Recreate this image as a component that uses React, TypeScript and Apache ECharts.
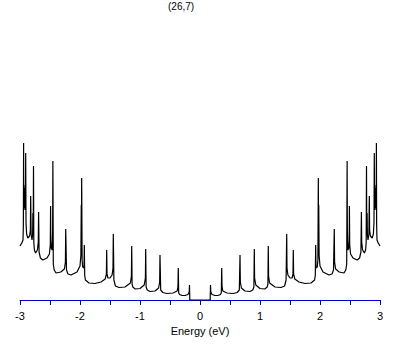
import React, { useEffect, useRef } from "react";
import * as echarts from "echarts";

const chartTitle = "(26,7)";
const xAxisName = "Energy (eV)";
const xMin = -3;
const xMax = 3;
const tickStep = 0.5;

// Density of states: [energy (eV), DOS (arb. units)]
const dosLeft: number[][] = [
  [-3.0, 54], [-2.97, 57], [-2.95, 60], [-2.944, 75], [-2.94, 157], [-2.937, 100], [-2.933, 108],
  [-2.928, 92], [-2.923, 112], [-2.918, 90], [-2.913, 115], [-2.909, 95], [-2.905, 147], [-2.9, 78],
  [-2.89, 66], [-2.87, 62], [-2.84, 64], [-2.827, 70], [-2.822, 104], [-2.815, 66], [-2.8, 60],
  [-2.79, 65], [-2.785, 87], [-2.779, 70], [-2.775, 134], [-2.77, 58], [-2.76, 50], [-2.74, 47],
  [-2.71, 50], [-2.695, 58], [-2.69, 88], [-2.682, 48], [-2.66, 42], [-2.62, 40], [-2.55, 42],
  [-2.51, 46], [-2.495, 55], [-2.49, 94], [-2.487, 60], [-2.48, 52], [-2.465, 50], [-2.456, 70],
  [-2.452, 139], [-2.445, 36], [-2.43, 30], [-2.4, 27], [-2.32, 28], [-2.26, 31], [-2.243, 38],
  [-2.238, 71], [-2.225, 30], [-2.2, 26], [-2.15, 25], [-2.05, 28], [-2.0, 34], [-1.985, 45],
  [-1.979, 95], [-1.976, 60], [-1.972, 122], [-1.965, 40], [-1.955, 33], [-1.933, 32], [-1.928, 55],
  [-1.922, 25], [-1.91, 20], [-1.85, 17], [-1.75, 16.5], [-1.65, 18], [-1.58, 21], [-1.56, 26],
  [-1.555, 50], [-1.55, 26], [-1.535, 22], [-1.5, 22], [-1.465, 25], [-1.45, 32], [-1.445, 66],
  [-1.435, 20], [-1.41, 14], [-1.35, 12.5], [-1.25, 13], [-1.16, 17], [-1.143, 24], [-1.138, 54],
  [-1.132, 16], [-1.12, 13], [-1.08, 11], [-1.0, 11.5], [-0.93, 15], [-0.91, 22], [-0.905, 51],
  [-0.898, 13], [-0.88, 10], [-0.83, 8.5], [-0.75, 9], [-0.69, 12], [-0.672, 18], [-0.667, 45],
  [-0.655, 10], [-0.62, 7.5], [-0.55, 6.5], [-0.45, 7], [-0.38, 9], [-0.367, 14], [-0.362, 32],
  [-0.355, 7], [-0.34, 5.5], [-0.3, 4.5], [-0.25, 4.5], [-0.2, 5.5], [-0.18, 8], [-0.175, 15],
  [-0.17, 0],
];

const dosRight: number[][] = [
  [0.17, 0], [0.175, 15], [0.18, 8], [0.2, 5.5], [0.25, 4.5], [0.3, 4.5], [0.34, 5.5], [0.355, 7],
  [0.362, 32], [0.367, 14], [0.38, 9], [0.45, 7], [0.55, 6.5], [0.62, 7.5], [0.655, 10],
  [0.667, 45], [0.672, 18], [0.69, 12], [0.75, 9], [0.83, 8.5], [0.88, 10], [0.898, 13],
  [0.905, 51], [0.91, 22], [0.93, 15], [1.0, 11.5], [1.08, 11], [1.12, 13], [1.132, 16],
  [1.138, 54], [1.143, 24], [1.16, 17], [1.25, 13], [1.35, 12.5], [1.41, 14], [1.435, 20],
  [1.445, 66], [1.45, 32], [1.465, 25], [1.5, 22], [1.535, 22], [1.55, 26],
  [1.555, 50], [1.56, 26], [1.58, 21], [1.65, 18], [1.75, 16.5], [1.85, 17], [1.91, 20], [1.922, 25],
  [1.928, 55], [1.933, 32], [1.955, 33], [1.965, 40],
  [1.972, 122], [1.976, 60], [1.979, 95], [1.985, 45], [2.0, 34], [2.05, 28], [2.15, 25], [2.2, 26],
  [2.225, 30], [2.238, 71], [2.243, 38], [2.26, 31], [2.32, 28], [2.4, 27], [2.43, 30], [2.445, 36],
  [2.452, 139], [2.456, 70], [2.465, 50], [2.48, 52], [2.487, 60],
  [2.49, 94], [2.495, 55], [2.51, 46], [2.55, 42], [2.62, 40], [2.66, 42], [2.682, 48],
  [2.69, 88], [2.695, 58], [2.71, 50], [2.74, 47], [2.76, 50], [2.77, 58],
  [2.775, 134], [2.779, 70], [2.785, 87], [2.79, 65], [2.8, 60], [2.815, 66],
  [2.822, 104], [2.827, 70], [2.84, 64], [2.87, 62], [2.89, 66], [2.9, 78],
  [2.905, 147], [2.909, 95], [2.913, 115], [2.918, 90], [2.923, 112], [2.928, 92], [2.933, 108],
  [2.937, 100], [2.94, 157], [2.944, 75], [2.95, 60], [2.97, 57], [3.0, 54],
];

export default function App() {
  const ref = useRef<HTMLDivElement>(null);
  useEffect(() => {
    if (!ref.current) return;
    const chart = echarts.init(ref.current, null, { renderer: "svg" });
    const data = [...dosLeft, ...dosRight];
    chart.setOption({
      animation: false,
      backgroundColor: "#ffffff",
      grid: { left: 20, right: 29, top: 140, bottom: 45, containLabel: false },
      graphic: [
        {
          type: "text",
          left: 168,
          top: 1,
          style: {
            text: chartTitle,
            fontSize: 10,
            fontFamily: "Liberation Sans, Arial, sans-serif",
            fill: "#000000",
          },
        },
      ],
      xAxis: {
        type: "value",
        min: xMin,
        max: xMax,
        interval: tickStep,
        name: xAxisName,
        nameLocation: "middle",
        nameGap: 25,
        nameTextStyle: {
          fontSize: 11,
          color: "#000000",
          fontFamily: "Liberation Sans, Arial, sans-serif",
        },
        axisLine: { show: true, onZero: false, lineStyle: { color: "#0000cc", width: 1 } },
        axisTick: { show: true, inside: false, length: 5, lineStyle: { color: "#0000cc", width: 1 } },
        axisLabel: {
          margin: 10,
          fontSize: 11,
          color: "#000000",
          fontFamily: "Liberation Sans, Arial, sans-serif",
          formatter: (v: number) => (Number.isInteger(v) ? String(v) : ""),
        },
        splitLine: { show: false },
      },
      yAxis: {
        type: "value",
        min: 0,
        max: 160,
        show: false,
        splitLine: { show: false },
      },
      series: [
        {
          type: "line",
          data,
          showSymbol: false,
          symbol: "none",
          lineStyle: { color: "#000000", width: 1.2 },
          z: 3,
        },
      ],
    });
    return () => chart.dispose();
  }, []);
  return (
    <div
      ref={ref}
      style={{ position: "absolute", left: 0, top: 0, width: 409, height: 345 }}
    />
  );
}
